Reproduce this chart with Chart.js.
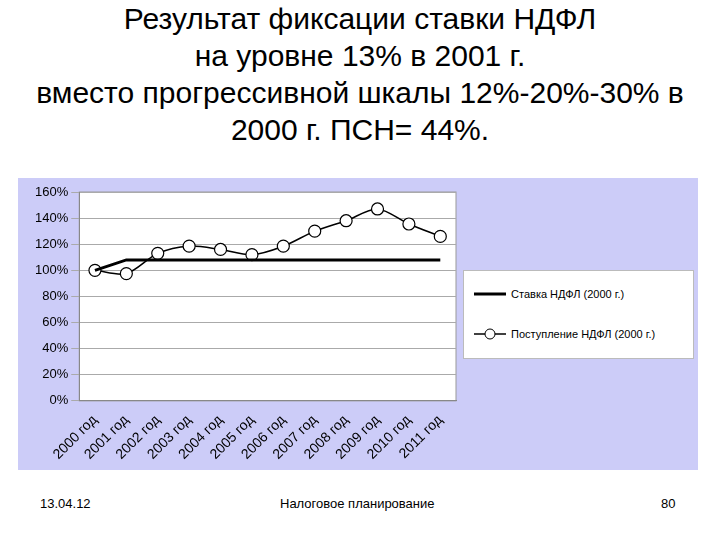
<!DOCTYPE html>
<html><head><meta charset="utf-8">
<script src="https://cdn.jsdelivr.net/npm/chart.js@4"></script>
<style>
body{margin:0;width:720px;height:540px;background:#fff;font-family:Arial,"Liberation Sans",sans-serif;position:relative;overflow:hidden}
#title{position:absolute;left:-20px;top:0px;width:760px;text-align:center;font-size:30px;line-height:37px;color:#000;white-space:nowrap}
#panel{position:absolute;left:18px;top:178px;width:680px;height:292px;background:#ccccf8}
#legend{position:absolute;left:463px;top:270px;width:229px;height:87px;background:#fff;border:1px solid #bbb;font-size:11px}
.li{position:absolute;left:8px;display:flex;align-items:center}
.foot{position:absolute;top:496px;font-size:13px}
</style></head><body>
<div id="title">Результат фиксации ставки НДФЛ<br>на уровне 13% в 2001 г.<br>вместо прогрессивной шкалы 12%-20%-30% в<br>2000 г. ПСН= 44%.</div>
<div id="panel"><canvas id="c" width="680" height="292"></canvas></div>
<div id="legend"></div>
<div class="foot" style="left:40px">13.04.12</div>
<div class="foot" style="left:280px">Налоговое планирование</div>
<div class="foot" style="left:661px">80</div>
<script>
const years = ['2000 год','2001 год','2002 год','2003 год','2004 год','2005 год','2006 год','2007 год','2008 год','2009 год','2010 год','2011 год'];
const rateSeries = [100,108,108,108,108,108,108,108,108,108,108,108];
const incomeSeries = [100,97.5,113,118.5,116,112,118.5,130,138,147,135.5,126];
const seriesNames = ['Ставка НДФЛ (2000 г.)','Поступление НДФЛ (2000 г.)'];

const plotBg = {
  id:'plotBg',
  beforeDraw(chart){
    const a = chart.chartArea, ctx = chart.ctx;
    ctx.save();
    ctx.fillStyle = '#fff';
    ctx.fillRect(a.left, a.top, a.width, a.height);
    ctx.strokeStyle = '#999';
    ctx.strokeRect(a.left, a.top, a.width, a.height);
    ctx.restore();
  }
};

new Chart(document.getElementById('c'), {
  type:'line',
  data:{labels:years, datasets:[
    {label:seriesNames[0], data:rateSeries, borderColor:'#000', borderWidth:3, pointRadius:0, tension:0},
    {label:seriesNames[1], data:incomeSeries, borderColor:'#000', borderWidth:1.5, pointRadius:6,
     pointBackgroundColor:'#fff', pointBorderColor:'#000', pointBorderWidth:1.2, tension:0.3}
  ]},
  options:{
    responsive:false, animation:false,
    layout:{padding:{left:14, right:242, top:14, bottom:4}},
    plugins:{legend:{display:false}, tooltip:{enabled:false}},
    scales:{
      x:{offset:true, grid:{display:false, drawTicks:true},
         border:{color:'#888'},
         ticks:{color:'#000', font:{family:'Arial', size:14}, maxRotation:45, minRotation:45}},
      y:{min:0, max:160, ticks:{stepSize:20, color:'#000', font:{family:'Arial', size:13}, callback:v=>v+'%'},
         grid:{color:'#aaa'}, border:{color:'#888'}}
    }
  },
  plugins:[plotBg]
});

const lg = document.getElementById('legend');
lg.innerHTML =
  '<div class="li" style="top:17px"><svg width="36" height="10"><line x1="2" y1="5" x2="34" y2="5" stroke="#000" stroke-width="3"/></svg>&nbsp;'+seriesNames[0]+'</div>'+
  '<div class="li" style="top:56px"><svg width="36" height="14"><line x1="2" y1="7" x2="34" y2="7" stroke="#000" stroke-width="1.5"/><circle cx="18" cy="7" r="5" fill="#fff" stroke="#000"/></svg>&nbsp;'+seriesNames[1]+'</div>';
</script>
</body></html>
